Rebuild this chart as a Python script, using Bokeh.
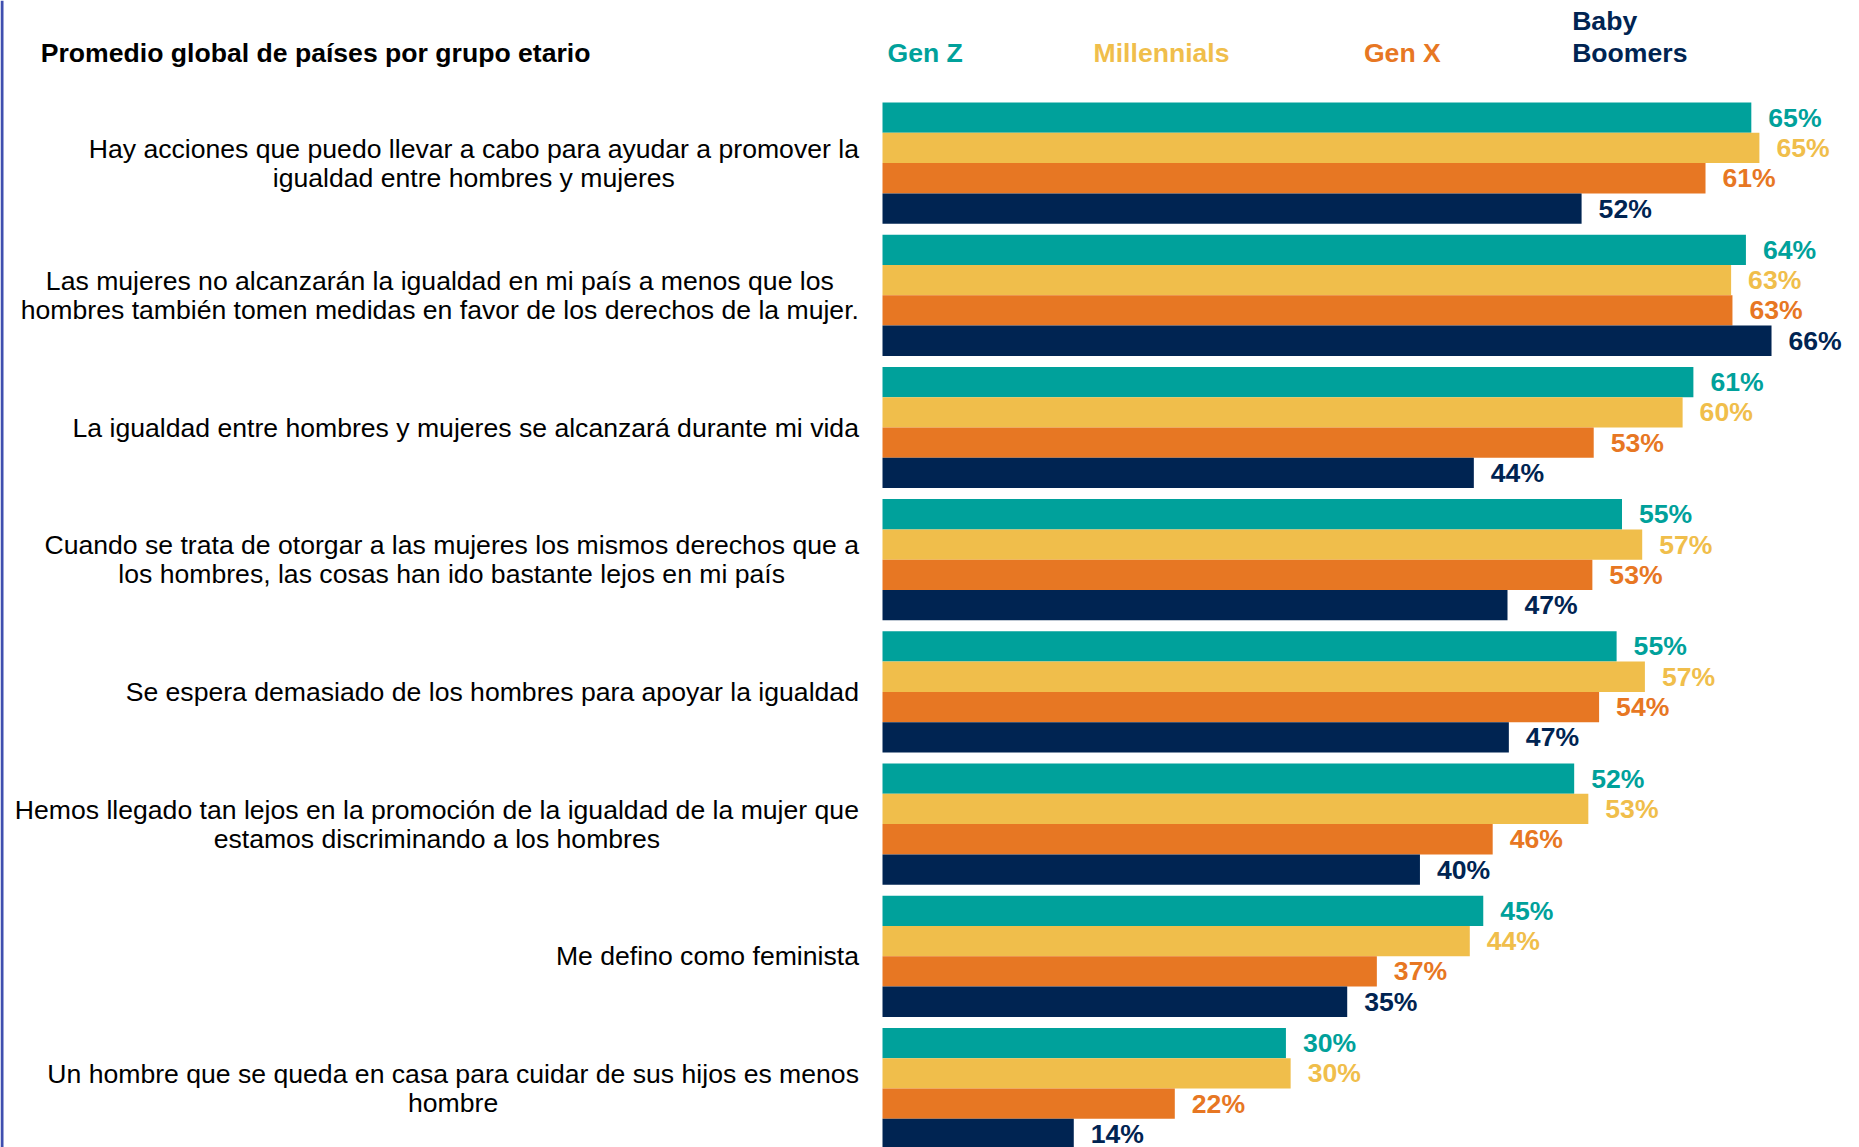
from bokeh.plotting import figure
from bokeh.models import ColumnDataSource, Range1d, Span
from bokeh.core.properties import value
from bokeh.embed import file_html
from bokeh.resources import INLINE

# ---------------- data ----------------
title = "Promedio global de países por grupo etario"
statements = [
    "Hay acciones que puedo llevar a cabo para ayudar a promover la\nigualdad entre hombres y mujeres",
    "Las mujeres no alcanzarán la igualdad en mi país a menos que los\nhombres también tomen medidas en favor de los derechos de la mujer.",
    "La igualdad entre hombres y mujeres se alcanzará durante mi vida",
    "Cuando se trata de otorgar a las mujeres los mismos derechos que a\nlos hombres, las cosas han ido bastante lejos en mi país",
    "Se espera demasiado de los hombres para apoyar la igualdad",
    "Hemos llegado tan lejos en la promoción de la igualdad de la mujer que\nestamos discriminando a los hombres",
    "Me defino como feminista",
    "Un hombre que se queda en casa para cuidar de sus hijos es menos\nhombre",
]
generations = ["Gen Z", "Millennials", "Gen X", "Baby Boomers"]
# bar lengths (%)
gen_z = [64.5, 64.1, 60.2, 54.9, 54.5, 51.35, 44.6, 29.95]
millennials = [65.1, 63.0, 59.4, 56.4, 56.6, 52.4, 43.6, 30.3]
gen_x = [61.1, 63.1, 52.8, 52.7, 53.2, 45.3, 36.7, 21.7]
baby_boomers = [51.9, 66.0, 43.9, 46.4, 46.5, 39.9, 34.5, 14.2]
# printed value labels (%)
gen_z_labels = [65, 64, 61, 55, 55, 52, 45, 30]
millennials_labels = [65, 63, 60, 57, 57, 53, 44, 30]
gen_x_labels = [61, 63, 53, 53, 54, 46, 37, 22]
baby_boomers_labels = [52, 66, 44, 47, 47, 40, 35, 14]
series = [gen_z, millennials, gen_x, baby_boomers]
series_labels = [gen_z_labels, millennials_labels, gen_x_labels, baby_boomers_labels]

# ---------------- style ----------------
colors = ["#00A19B", "#F0BE4B", "#E77723", "#002452"]
FONT = value("Liberation Sans")
FS = "26.6px"
W, H = 1859, 1147
PX = 13.47      # pixels per percentage point
BAR = 30.3      # bar thickness in px
GAP = 11.0      # gap between groups in px
X0 = 882        # canvas px of 0 %
Y0 = 102        # canvas px of top of first bar

G = 4 + GAP / BAR
ytop = -0.5 - Y0 / BAR
ybot = ytop + H / BAR

p = figure(width=W, height=H,
           x_range=Range1d(-X0 / PX, (W - X0) / PX),
           y_range=Range1d(ybot, ytop),
           output_backend="svg", toolbar_location=None,
           x_axis_location=None, y_axis_location=None,
           min_border=0, min_border_left=0, min_border_right=0,
           min_border_top=0, min_border_bottom=0)
p.grid.visible = False
p.outline_line_color = None
p.background_fill_color = "white"
p.border_fill_color = "white"

# bars
ys, vs, cs, labels = [], [], [], []
for i in range(len(statements)):
    for j, s in enumerate(series):
        ys.append(i * G + j)
        vs.append(s[i])
        cs.append(colors[j])
        labels.append(f"{series_labels[j][i]}%")
src = ColumnDataSource(dict(y=ys, v=vs, c=cs, lbl=labels))
p.hbar(y="y", left=0, right="v", height=1, color="c", line_color=None, source=src)
p.text(x="v", y="y", text="lbl", x_offset=17, text_baseline="middle",
       text_align="left", text_color="c", text_font=FONT,
       text_font_style="bold", text_font_size=FS, source=src)

# statement labels
qsrc = ColumnDataSource(dict(x=[-1.75] * len(statements),
                             y=[i * G + 1.5 for i in range(len(statements))],
                             t=statements))
p.text(x="x", y="y", text="t", source=qsrc, text_align="center",
       anchor=value("center_right"), text_baseline="middle",
       text_line_height=0.97, text_color="black", text_font=FONT,
       text_font_size=FS)

# header
hy = ytop + 52 / BAR
hy_top = ytop + 20 / BAR
p.text(x=[-62.49], y=[hy], text=[title], text_baseline="middle", text_align="left",
       text_color="black", text_font=FONT, text_font_style="bold", text_font_size=FS)
hx = [0.37, 15.67, 35.74, 51.2]
for k, g in enumerate(generations):
    if g == "Baby Boomers":
        first, second = g.split(" ")
        p.text(x=[hx[k]], y=[hy_top], text=[first], text_baseline="middle",
               text_color=colors[k], text_font=FONT, text_font_style="bold", text_font_size=FS)
        p.text(x=[hx[k]], y=[hy], text=[second], text_baseline="middle",
               text_color=colors[k], text_font=FONT, text_font_style="bold", text_font_size=FS)
    else:
        p.text(x=[hx[k]], y=[hy], text=[g], text_baseline="middle",
               text_color=colors[k], text_font=FONT, text_font_style="bold", text_font_size=FS)

# left accent line
p.add_layout(Span(location=-X0 / PX + 1.5 / PX, dimension="height",
                  line_color="#3F4FAF", line_width=3))

open("out.html", "w").write(file_html(p, INLINE))
